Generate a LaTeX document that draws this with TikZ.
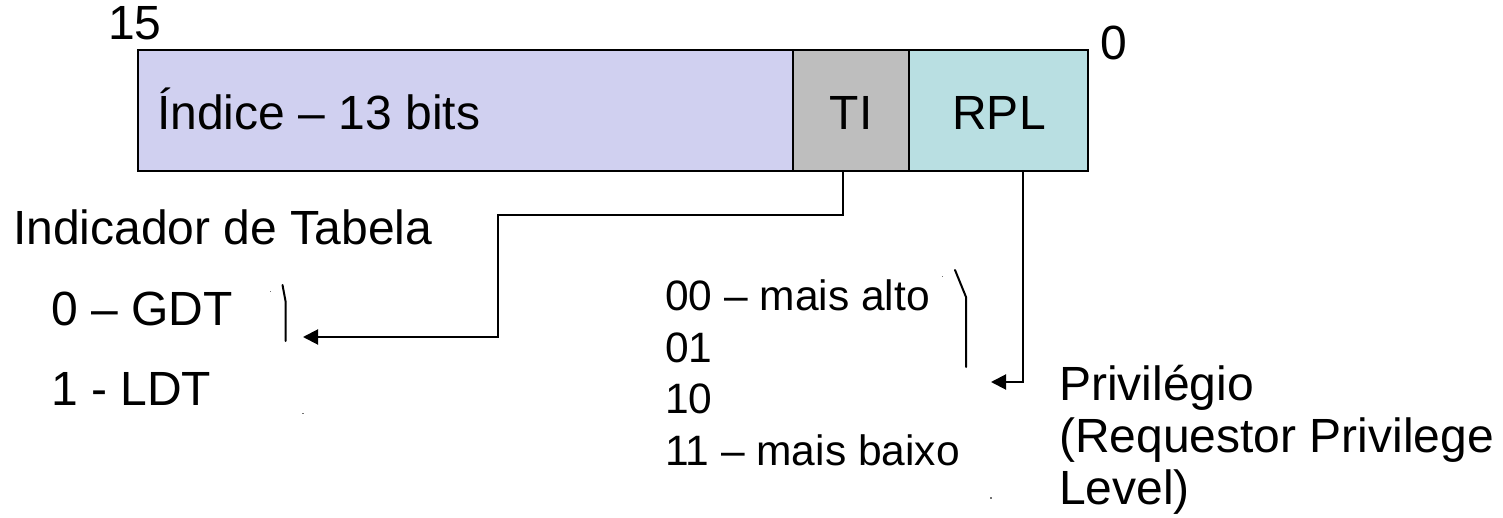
\documentclass[tikz,border=0pt]{standalone}
\usepackage{fontspec}
\setmainfont{Liberation Sans}
\usetikzlibrary{arrows.meta}

\definecolor{idxfill}{RGB}{208,208,240}
\definecolor{tifill}{RGB}{190,190,190}
\definecolor{rplfill}{RGB}{185,223,226}

\tikzset{
  field/.style={draw=black, line width=2pt, inner sep=0pt, outer sep=0pt,
    minimum height=121pt, anchor=north west},
  lbl/.style={inner sep=0pt, anchor=base west, font=\fontsize{48}{52}\selectfont},
  lvl/.style={inner sep=0pt, anchor=base west, align=left,
    font=\fontsize{42.5}{51.5}\selectfont},
  link/.style={draw=black, line width=2pt,
    -{Triangle[length=15pt,width=15pt]}},
  stroke/.style={line width=2pt, line cap=round, line join=round},
  speck/.style={fill=black!55}
}

\begin{document}
\begin{tikzpicture}[x=1pt,y=-1pt]
\useasboundingbox (0,0) rectangle (1503,518);

% selector fields
\node[field, fill=idxfill, minimum width=655pt] (idx) at (138,50) {};
\node[field, fill=tifill,  minimum width=116pt] (ti)  at (793,50) {};
\node[field, fill=rplfill, minimum width=179pt] (rpl) at (909,50) {};

% bit numbers
\node[lbl] (b15) at (108,40) {15};
\node[lbl] (b0)  at (1100,60) {0};

% field names
\node[lbl] (idxt) at (157,130) {Índice – 13 bits};
\node[lbl, anchor=base] (tit)  at (851,130) {TI};
\node[lbl, anchor=base] (rplt) at (999,130) {RPL};

% table indicator
\node[lbl] (tab) at (13,245) {Indicador de Tabela};
\node[lbl] (gdt) at (51,326) {0 – GDT};
\node[lbl] (ldt) at (51,405) {1 - LDT};

% privilege levels (base anchor = last line)
\node[lvl] (lvls) at (665,465) {00 – mais alto\\01\\10\\11 – mais baixo};
\node[lbl, align=left] (priv) at (1059,504)
  {Privilégio\\(Requestor Privilege\\Level)};

% connectors
\coordinate (tiend)  at (303,337);
\coordinate (rplend) at (991,382);
\draw[link] (ti.south -| 843,0) |- (498,215) |- (tiend);
\draw[link] (rpl.south -| 1023,0) |- (rplend);

% hand-drawn strokes
\draw[stroke] (282.5,285) -- (285.5,301) -- (285.5,341);
\draw[stroke] (955,270) -- (966,297) -- (966,367);

% small specks
\fill[speck] (269.5,291) rectangle ++(1.5,1.5);
\fill[speck] (302,412.5) rectangle ++(1.5,1.5);
\fill[speck] (941.5,276) rectangle ++(1.5,1.5);
\fill[speck] (990,497) rectangle ++(1.5,2);
\end{tikzpicture}
\end{document}
